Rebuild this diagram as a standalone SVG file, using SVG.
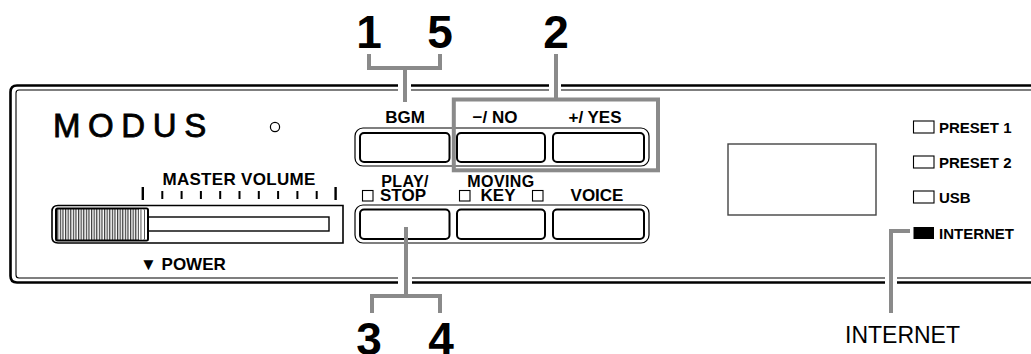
<svg xmlns="http://www.w3.org/2000/svg" width="1031" height="354" viewBox="0 0 1031 354">
<defs>
<style>
.lbl{font-family:"Liberation Sans",Arial,sans-serif;font-weight:bold;font-size:17px;fill:#000}
.lbl2{font-family:"Liberation Sans",Arial,sans-serif;font-weight:bold;font-size:16px;fill:#000}
.led{font-family:"Liberation Sans",Arial,sans-serif;font-weight:bold;font-size:15px;fill:#000}
.num{font-family:"Liberation Sans",Arial,sans-serif;font-weight:bold;font-size:46px;fill:#000;text-anchor:middle}
.btn{fill:#fff;stroke:#000;stroke-width:2}
.frame{fill:none;stroke:#000;stroke-width:1.2}
.box{fill:#fff;stroke:#000;stroke-width:1.1}
.conn{fill:none;stroke:#8a8a8a;stroke-width:4}
.gap{fill:#fff}
</style>
<pattern id="hatch" width="2.6" height="10" patternUnits="userSpaceOnUse">
<rect width="2.6" height="10" fill="#fff"/>
<rect x="0" width="1.2" height="10" fill="#3a3a3a"/>
</pattern>
</defs>
<rect width="1031" height="354" fill="#fff"/>

<g id="panel">
<path d="M1031 85.5H17Q10.5 85.5 10.5 92V276Q10.5 282.5 17 282.5H1031" fill="none" stroke="#000" stroke-width="2.6"/>
<path d="M1031 90H19Q16 90 16 93V275Q16 278 19 278H1031" fill="none" stroke="#000" stroke-width="1.1"/>
<rect class="gap" x="398" y="82" width="13" height="12"/>
<rect class="gap" x="549" y="82" width="12" height="12"/>
<rect class="gap" x="398" y="274" width="14" height="12"/>
<rect class="gap" x="885" y="274" width="12" height="12"/>
</g>

<g id="logo">
<text x="53" y="137" font-family="'Liberation Sans',Arial,sans-serif" font-size="33" letter-spacing="7.6" stroke="#000" stroke-width="0.8">MODUS</text>
<circle cx="275" cy="127" r="4.6" fill="#fff" stroke="#000" stroke-width="1.2"/>
</g>

<g id="master-volume">
<text class="lbl" x="239" y="185" text-anchor="middle" letter-spacing="0.3">MASTER VOLUME</text>
<g fill="#000">
<rect x="141.6" y="187" width="2.4" height="13"/>
<rect x="161.3" y="191" width="2" height="8"/>
<rect x="180.6" y="191" width="2" height="8"/>
<rect x="199.9" y="191" width="2" height="8"/>
<rect x="219.2" y="191" width="2" height="8"/>
<rect x="238.5" y="191" width="2" height="8"/>
<rect x="257.8" y="191" width="2" height="8"/>
<rect x="277.1" y="191" width="2" height="8"/>
<rect x="296.4" y="191" width="2" height="8"/>
<rect x="315.7" y="191" width="2" height="8"/>
<rect x="334.4" y="187" width="2.4" height="13"/>
</g>
<path d="M343 205.5H58Q52 205.5 52 211.5V237Q52 243 58 243H343Z" fill="#fff" stroke="#000" stroke-width="1.6"/>
<rect x="148" y="217" width="181" height="14" fill="#fff" stroke="#000" stroke-width="1.4"/>
<rect x="56" y="208.5" width="92" height="32" rx="1.5" fill="url(#hatch)" stroke="#000" stroke-width="2"/>
<rect x="139" y="209.5" width="8" height="30" fill="#fff"/>
<rect x="140.5" y="209.5" width="0.9" height="30" fill="#444"/>
<rect x="144" y="209.5" width="0.9" height="30" fill="#444"/>
<text class="lbl" x="140" y="270">▼ POWER</text>
</g>

<g id="bgm-row">
<rect class="frame" x="355" y="128" width="294" height="38" rx="8"/>
<g id="btn-bgm"><text class="lbl" x="405" y="123" text-anchor="middle">BGM</text><rect class="btn" x="360" y="133" width="89.5" height="29" rx="4"/></g>
<g id="btn-no"><text class="lbl" x="495" y="123" text-anchor="middle">−/ NO</text><rect class="btn" x="457" y="133" width="88" height="29" rx="4"/></g>
<g id="btn-yes"><text class="lbl" x="595" y="123" text-anchor="middle">+/ YES</text><rect class="btn" x="553" y="133" width="91" height="29" rx="4"/></g>
</g>

<g id="play-row">
<rect class="frame" x="355" y="205" width="294" height="38" rx="8"/>
<g id="btn-play">
<text class="lbl2" x="405" y="187" text-anchor="middle" letter-spacing="0.4">PLAY/</text>
<rect class="box" x="362.5" y="190.5" width="10.5" height="10.5"/>
<text class="lbl" x="380" y="200.5">STOP</text>
<rect class="btn" x="360" y="209.5" width="89.5" height="29.5" rx="4"/>
</g>
<g id="btn-key">
<text class="lbl2" x="501" y="187" text-anchor="middle" letter-spacing="0.4">MOVING</text>
<rect class="box" x="459.5" y="190.5" width="10.5" height="10.5"/>
<text class="lbl" x="498" y="200.5" text-anchor="middle">KEY</text>
<rect class="box" x="532.5" y="190.5" width="10.5" height="10.5"/>
<rect class="btn" x="457" y="209.5" width="88" height="29.5" rx="4"/>
</g>
<g id="btn-voice">
<text class="lbl" x="597" y="200.5" text-anchor="middle">VOICE</text>
<rect class="btn" x="553" y="209.5" width="91" height="29.5" rx="4"/>
</g>
</g>

<g id="display">
<rect x="728" y="144" width="148" height="71" fill="#fff" stroke="#444" stroke-width="1.4"/>
</g>

<g id="leds">
<g id="led-preset1"><rect class="box" x="913.5" y="121" width="20.5" height="12"/><text class="led" x="939" y="133">PRESET 1</text></g>
<g id="led-preset2"><rect class="box" x="913.5" y="156" width="20.5" height="12"/><text class="led" x="939" y="168">PRESET 2</text></g>
<g id="led-usb"><rect class="box" x="913.5" y="191" width="20.5" height="12"/><text class="led" x="939" y="203">USB</text></g>
<g id="led-internet"><rect x="913.5" y="227" width="20.5" height="12" fill="#000"/><text class="led" x="939" y="239">INTERNET</text></g>
</g>

<g id="connectors">
<path class="conn" d="M369 54V68H440V54M405 68V102"/>
<path class="conn" d="M556 54V99.5"/>
<rect class="conn" x="453.8" y="99.5" width="204.2" height="70.8"/>
<path class="conn" d="M406 227V296M372 313V296H440V313"/>
<path class="conn" d="M910 231H891V313"/>
</g>

<g id="callouts">
<text class="num" x="369" y="48">1</text>
<text class="num" x="440" y="48">5</text>
<text class="num" x="556" y="48">2</text>
<text class="num" x="369" y="354.5" font-size="45">3</text>
<text class="num" x="441" y="354.5" font-size="45">4</text>
<text x="902.5" y="343" text-anchor="middle" font-family="'Liberation Sans',Arial,sans-serif" font-size="23" fill="#000">INTERNET</text>
</g>
</svg>
